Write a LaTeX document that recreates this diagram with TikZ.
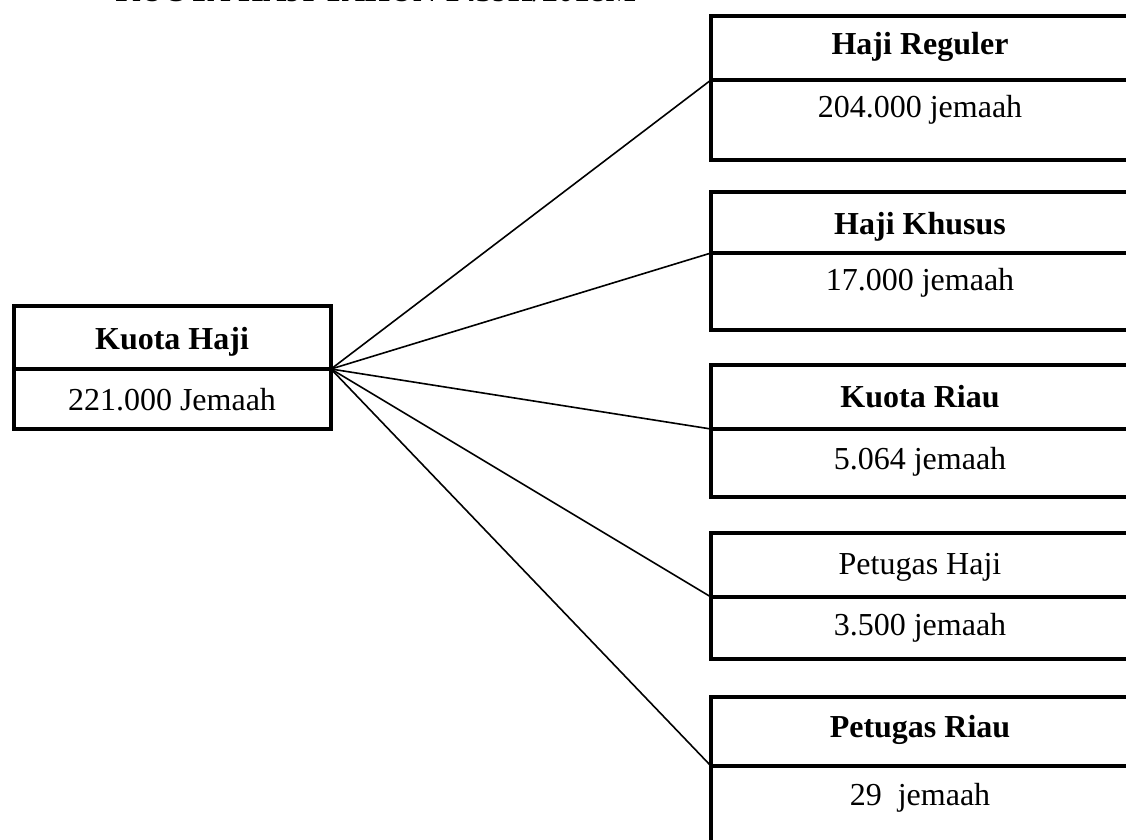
\documentclass[tikz,border=0pt]{standalone}
\usepackage{fontspec}
\setmainfont{Liberation Serif}
\begin{document}
\begin{tikzpicture}[x=0.375pt,y=-0.375pt,
  boxline/.style={line width=1.7pt},
  link/.style={line width=0.6pt},
  lbl/.style={inner sep=0pt,font=\fontsize{12}{14}\selectfont},
  hdr/.style={inner sep=0pt,font=\fontsize{12}{14}\selectfont\bfseries}]
\useasboundingbox (0,0) rectangle (1126,839);

% title (cut off at top of page, as in the reference)
\node[hdr,anchor=base west] (title) at (115,1.5) {KUOTA HAJI TAHUN 1439H/2018M};

% left box
\draw[boxline] (14,306) rectangle (331,429);
\draw[boxline] (14,369) -- (331,369);
\coordinate (src) at (331,369);
\node[hdr] (kh) at (172,342) {Kuota Haji};
\node[lbl] (khv) at (172,400) {221.000 Jemaah};

% right boxes
\draw[boxline] (1140,16) -- (711,16) -- (711,160) -- (1140,160);
\draw[boxline] (711,80) -- (1140,80);
\coordinate (d1) at (711,80);
\node[hdr] (b1) at (920,47) {Haji Reguler};
\node[lbl] (b1v) at (920,110) {204.000 jemaah};

\draw[boxline] (1140,192) -- (711,192) -- (711,330) -- (1140,330);
\draw[boxline] (711,253) -- (1140,253);
\coordinate (d2) at (711,253);
\node[hdr] (b2) at (920,227) {Haji Khusus};
\node[lbl] (b2v) at (920,283) {17.000 jemaah};

\draw[boxline] (1140,365) -- (711,365) -- (711,497) -- (1140,497);
\draw[boxline] (711,429) -- (1140,429);
\coordinate (d3) at (711,429);
\node[hdr] (b3) at (920,397) {Kuota Riau};
\node[lbl] (b3v) at (920,462) {5.064 jemaah};

\draw[boxline] (1140,533) -- (711,533) -- (711,659) -- (1140,659);
\draw[boxline] (711,597) -- (1140,597);
\coordinate (d4) at (711,597);
\node[lbl] (b4) at (920,567) {Petugas Haji};
\node[lbl] (b4v) at (920,628) {3.500 jemaah};

\draw[boxline] (1140,697) -- (711,697) -- (711,850);
\draw[boxline] (711,766) -- (1140,766);
\coordinate (d5) at (711,766);
\node[hdr] (b5) at (920,730) {Petugas Riau};
\node[lbl] (b5v) at (920,798) {29\ \ jemaah};

% connectors
\foreach \t in {d1,d2,d3,d4,d5}
  \draw[link] (src) -- (\t);
\end{tikzpicture}
\end{document}
